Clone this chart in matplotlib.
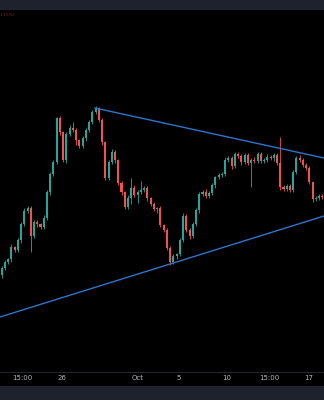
import matplotlib
matplotlib.use("Agg")
import matplotlib.pyplot as plt
from matplotlib.patches import Rectangle
import numpy as np

# candle closes (open of each candle = previous close)
first_open = 125
closes = [132, 138, 141, 153, 150, 160, 176, 189, 192, 164,
          178, 176, 173, 182, 208, 226, 238, 282, 268, 240,
          266, 272, 270, 260, 254, 262, 270, 278, 288, 292,
          280, 258, 222, 238, 248, 240, 217, 208, 193, 202,
          212, 205, 208, 210, 212, 202, 196, 191, 192, 175,
          170, 152, 138, 144, 146, 160, 184, 170, 164, 176,
          190, 206, 208, 204, 207, 215, 223, 225, 226, 240,
          242, 234, 246, 244, 238, 245, 237, 240, 239, 246,
          239, 240, 243, 242, 245, 237, 213, 211, 214, 210,
          228, 242, 240, 235, 232, 218, 201, 202, 204, 203]
wick_up = [2, 2, 1, 3, 1, 2, 2, 3, 2, 2,
           2, 2, 1, 3, 2, 2, 2, 1, 2, 1,
           2, 3, 6, 2, 1, 2, 2, 2, 2, 2,
           1, 2, 1, 2, 3, 2, 1, 2, 1, 3,
           10, 3, 2, 9, 2, 2, 1, 2, 1, 2,
           1, 2, 2, 2, 1, 2, 3, 2, 2, 2,
           2, 2, 2, 3, 2, 2, 1, 2, 2, 3,
           2, 2, 2, 2, 2, 2, 2, 2, 3, 2,
           2, 2, 3, 2, 2, 2, 26, 2, 2, 2,
           2, 2, 3, 2, 2, 2, 1, 2, 2, 2]
wick_dn = [3, 2, 2, 3, 2, 2, 3, 2, 2, 16,
           2, 3, 2, 2, 2, 3, 2, 2, 3, 2,
           3, 2, 2, 5, 2, 2, 3, 2, 2, 2,
           2, 3, 2, 2, 2, 3, 2, 3, 2, 2,
           6, 2, 8, 2, 2, 3, 2, 2, 4, 2,
           2, 2, 3, 2, 3, 2, 2, 2, 3, 2,
           2, 3, 2, 2, 2, 2, 3, 2, 2, 2,
           2, 3, 2, 2, 3, 2, 2, 24, 2, 2,
           2, 2, 2, 2, 3, 2, 3, 2, 2, 2,
           2, 2, 2, 2, 2, 2, 3, 2, 2, 2]

# trendlines: (index, price) endpoints
upper_line = [(28.8, 292), (99.5, 242)]
lower_line = [(-0.5, 83), (99.5, 184)]

tick_pos = [6.3, 18.6, 42.1, 54.7, 69.6, 82.5, 94.9]
tick_labels = ["15:00", "26", "Oct", "5", "10", "15:00", "17"]

UP = "#26a69a"
DOWN = "#ef5350"
BAND = "#1e222d"

closes = np.array(closes, dtype=float)
opens = np.concatenate([[first_open], closes[:-1]])
highs = np.maximum(opens, closes) + np.array(wick_up)
lows = np.minimum(opens, closes) - np.array(wick_dn)
idx = np.arange(len(closes))
colors = np.where(closes >= opens, UP, DOWN)

fig = plt.figure(figsize=(3.24, 4.0), dpi=100, facecolor="black")
fig.patches.append(Rectangle((0, 1 - 10 / 400), 1, 10 / 400, transform=fig.transFigure,
                             facecolor=BAND, edgecolor="none", zorder=0))
fig.patches.append(Rectangle((0, 0), 1, 14 / 400, transform=fig.transFigure,
                             facecolor=BAND, edgecolor="none", zorder=0))

ax = fig.add_axes([0, 28 / 400, 1, 362 / 400])
ax.set_facecolor("black")

ax.vlines(idx, lows, highs, colors=colors, linewidth=0.6, zorder=2)
heights = np.maximum(np.abs(closes - opens), 0.8)
ax.bar(idx, heights, bottom=np.minimum(opens, closes), width=0.62,
       color=colors, edgecolor="none", zorder=3)

for line in (upper_line, lower_line):
    xs = [p[0] for p in line]
    ys = [p[1] for p in line]
    ax.plot(xs, ys, color="#2f74cc", linewidth=1.0, zorder=4)

ax.set_xlim(-0.5, len(closes) - 0.5)
ax.set_ylim(28, 390)
ax.set_yticks([])
ax.set_xticks(tick_pos, tick_labels)
ax.tick_params(axis="x", length=0, pad=2.5, labelsize=5, colors="#b2b5be")
for s in ("top", "left", "right"):
    ax.spines[s].set_visible(False)
ax.spines["bottom"].set_color("#2a2e39")
ax.spines["bottom"].set_linewidth(0.6)

fig.text(0.0, 1 - 15 / 400, "1.15%)", fontsize=3.2, color="#6e2a2e", va="center", ha="left")

fig.savefig("out.png", dpi=100, facecolor=fig.get_facecolor())
